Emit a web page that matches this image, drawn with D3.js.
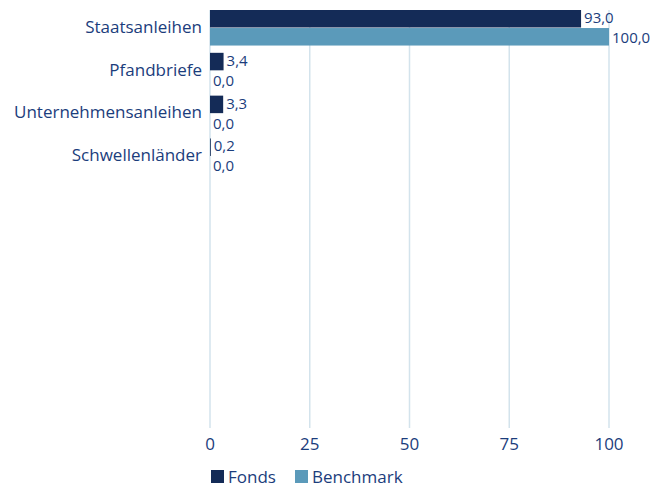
<!DOCTYPE html>
<html>
<head>
    <meta charset="utf-8">
    <title>Anleihen</title>
    <script src="https://d3js.org/d3.v7.min.js"></script>
    <style>
        body { margin: 0; background-color: #ffffff; }
        text { font-family: "Open Sans", Lato, sans-serif; fill: #1b3d7c; }
    </style>
</head>
<body>
    <script>
        // chart data
        const categories = ["Staatsanleihen", "Pfandbriefe", "Unternehmensanleihen", "Schwellenländer"];
        const fonds = [93.0, 3.4, 3.3, 0.2];
        const benchmark = [100.0, 0.0, 0.0, 0.0];
        const seriesNames = ["Fonds", "Benchmark"];
        const xTicks = [0, 25, 50, 75, 100];

        const colors = ["#142b57", "#5b9aba"];
        const width = 670, height = 488;
        const plotLeft = 210, plotRight = 609, plotTop = 10, plotBottom = 428;
        const step = 41;

        const svg = d3.select("body").append("svg")
            .attr("width", width)
            .attr("height", height);

        const x = d3.scaleLinear().domain([0, 100]).range([plotLeft, plotRight]);
        const y = d3.scaleBand().domain(categories)
            .range([plotTop, plotTop + step * categories.length])
            .paddingInner(0.17).paddingOuter(0);
        const ySub = d3.scaleBand().domain(seriesNames).range([0, y.bandwidth()]).paddingInner(0.03);

        // gridlines
        svg.append("g").selectAll("line")
            .data(xTicks)
            .enter().append("line")
            .attr("x1", d => x(d)).attr("x2", d => x(d))
            .attr("y1", plotTop).attr("y2", plotBottom)
            .style("stroke", "#d3e3ec")
            .style("stroke-width", 1.5);

        // tick labels
        svg.append("g").selectAll("text")
            .data(xTicks)
            .enter().append("text")
            .attr("x", d => x(d))
            .attr("y", 450)
            .style("text-anchor", "middle")
            .style("font-size", "17px")
            .text(d => d);

        const rows = categories.map((c, i) => ({ cat: c, values: [fonds[i], benchmark[i]] }));

        const groups = svg.append("g").selectAll("g")
            .data(rows)
            .enter().append("g")
            .attr("transform", d => "translate(0," + y(d.cat) + ")");

        // category labels
        groups.append("text")
            .attr("x", plotLeft - 8)
            .attr("y", y.bandwidth() / 2)
            .attr("dy", "0.3em")
            .style("text-anchor", "end")
            .style("font-size", "17px")
            .text(d => d.cat);

        groups.selectAll("rect")
            .data(d => d.values.map((v, j) => ({ v: v, s: seriesNames[j], j: j })))
            .enter().append("rect")
            .attr("x", x(0))
            .attr("y", d => ySub(d.s))
            .attr("width", d => x(d.v) - x(0))
            .attr("height", ySub.bandwidth())
            .style("fill", d => colors[d.j]);

        groups.selectAll(".val")
            .data(d => d.values.map((v, j) => ({ v: v, s: seriesNames[j], j: j })))
            .enter().append("text")
            .attr("class", "val")
            .attr("x", d => x(d.v) + 3)
            .attr("y", d => ySub(d.s) + ySub.bandwidth() / 2 + (d.j === 1 ? 1 : -1))
            .attr("dy", "0.35em")
            .style("font-size", "15px")
            .text(d => d.v.toFixed(1).replace(".", ","));

        // legend
        const legend = svg.append("g").attr("transform", "translate(211,470)");
        const lx = [0, 84];
        seriesNames.forEach((s, i) => {
            legend.append("rect")
                .attr("x", lx[i]).attr("y", 0)
                .attr("width", 13).attr("height", 13)
                .style("fill", colors[i]);
            legend.append("text")
                .attr("x", lx[i] + 17).attr("y", 7)
                .attr("dy", "0.35em")
                .style("font-size", "17px")
                .text(s);
        });
    </script>
</body>
</html>
